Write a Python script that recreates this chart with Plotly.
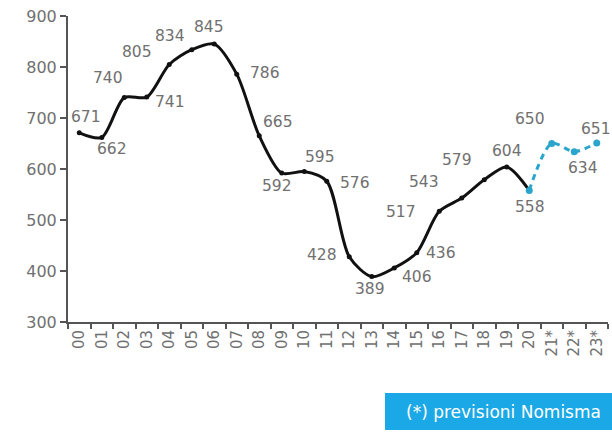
import plotly.graph_objects as go

years = ["00", "01", "02", "03", "04", "05", "06", "07", "08", "09", "10", "11",
         "12", "13", "14", "15", "16", "17", "18", "19", "20", "21*", "22*", "23*"]
values = [671, 662, 740, 741, 805, 834, 845, 786, 665, 592, 595, 576,
          428, 389, 406, 436, 517, 543, 579, 604, 558, 650, 634, 651]
n_actual = 21  # 00..20 are actual, rest are forecasts
note_text = "(*) previsioni Nomisma"

# label offsets in pixels (style)
label_offsets = [(7, -16), (10, 12), (-16, -20), (23, 5), (-32, -12), (-22, -14),
                 (-5, -17), (28, -1), (19, -14), (-5, 13), (16, -15), (28, 2),
                 (-27, -2), (-2, 12), (23, 9), (24, 0), (-38, 1), (-38, -16),
                 (-27, -20), (0, -16), (1, 17), (-22, -25), (9, 16), (-1, -14)]

BLACK = "#111111"
BLUE = "#2aa6cc"
GREY = "#707070"
FONT = "DejaVu Sans"

fig = go.Figure()
fig.add_trace(go.Scatter(
    x=years[:n_actual], y=values[:n_actual], mode="lines+markers",
    line=dict(color=BLACK, width=3, shape="spline", smoothing=0.8),
    marker=dict(color=BLACK, size=5), showlegend=False, cliponaxis=False))
fig.add_trace(go.Scatter(
    x=years[n_actual - 1:], y=values[n_actual - 1:], mode="lines+markers",
    line=dict(color=BLUE, width=3, dash="6px,5px", shape="spline", smoothing=0.8),
    marker=dict(color=BLUE, size=7), showlegend=False, cliponaxis=False))

for i, (yr, v) in enumerate(zip(years, values)):
    dx, dy = label_offsets[i]
    fig.add_annotation(x=yr, y=v, text=str(v), showarrow=False,
                       xshift=dx, yshift=-dy,
                       font=dict(family=FONT, size=15.5, color=GREY))

fig.add_shape(type="rect", xref="paper", yref="paper",
              x0=0.587, x1=1.01, y0=-0.353, y1=-0.232,
              fillcolor="#1ba8e6", line=dict(width=0), layer="above")
fig.add_annotation(xref="paper", yref="paper", x=0.991, y=-0.2925,
                   xanchor="right", yanchor="middle", showarrow=False,
                   text=note_text, font=dict(family=FONT, size=17, color="white"))

fig.update_layout(
    width=612, height=432,
    margin=dict(l=68, r=4, t=16, b=110),
    paper_bgcolor="white", plot_bgcolor="white",
    xaxis=dict(type="category", categoryarray=years, tickson="boundaries",
               ticks="outside", ticklen=5, tickwidth=1.5, tickcolor="#555",
               showline=True, linecolor="#555", linewidth=2,
               showgrid=False, zeroline=False, tickangle=-90,
               tickfont=dict(family=FONT, size=15, color=GREY),
               range=[-0.5, len(years) - 0.5]),
    yaxis=dict(range=[300, 900], dtick=100, ticks="outside", ticklen=6,
               tickwidth=1.5, tickcolor="#555",
               showline=True, linecolor="#555", linewidth=2,
               showgrid=False, zeroline=False,
               tickfont=dict(family=FONT, size=16, color=GREY)),
)

fig.write_html("out.html")
